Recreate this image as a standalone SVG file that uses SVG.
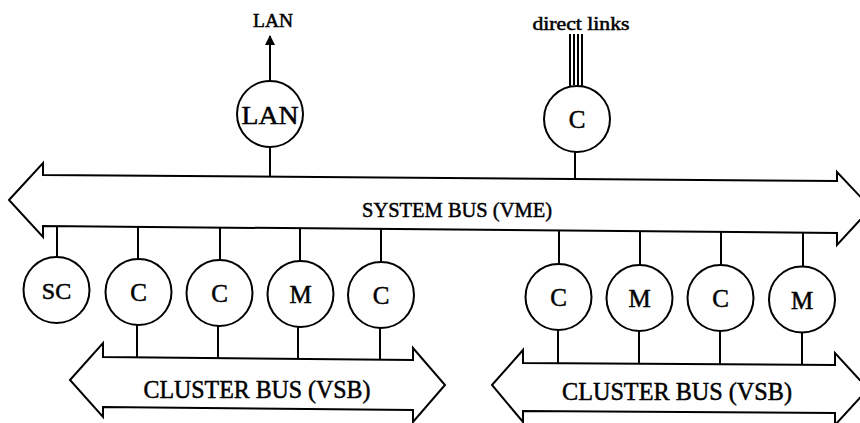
<svg xmlns="http://www.w3.org/2000/svg" width="860" height="423" viewBox="0 0 860 423">
<style>
  .bus { fill: none; stroke: #000; stroke-width: 2; stroke-linejoin: miter; }
  .node circle { fill: #fff; stroke: #000; stroke-width: 2; }
  .lbl { font-family: "Liberation Serif", "Times New Roman", serif; fill: #000; stroke: #000; stroke-width: 0.5; text-anchor: middle; }
  .wire { stroke: #000; stroke-width: 2; fill: none; }
</style>
<defs>
  <marker id="arr" viewBox="0 0 10 10" refX="9" refY="5" markerWidth="5" markerHeight="6" orient="auto" markerUnits="strokeWidth">
    <path d="M0,0 L10,5 L0,10 z" fill="#000"/>
  </marker>
</defs>
<rect width="860" height="423" fill="#fff"/>

<g id="system-bus">
  <polygon class="bus" points="9,200 43,163 43,175 837,181 837,172 871,208 837,245 837,233 43,226 43,237"/>
  <text class="lbl" x="457" y="217" font-size="22" textLength="190" lengthAdjust="spacingAndGlyphs">SYSTEM BUS (VME)</text>
</g>

<g id="cluster-bus-1">
  <polygon class="bus" points="70,380 103,343 103,357 413,360 413,348 445,385 413,422 413,410 103,407 103,417"/>
  <text class="lbl" x="257" y="398" font-size="25" textLength="227" lengthAdjust="spacingAndGlyphs">CLUSTER BUS (VSB)</text>
</g>

<g id="cluster-bus-2">
  <polygon class="bus" points="492,385 523,350 523,363 835,365 835,353 868,389 835,425 835,413 523,411 523,422"/>
  <text class="lbl" x="677" y="400" font-size="25" textLength="230" lengthAdjust="spacingAndGlyphs">CLUSTER BUS (VSB)</text>
</g>

<g id="connectors">
  <line class="wire" x1="270" y1="80" x2="270" y2="36" marker-end="url(#arr)"/>
  <line class="wire" x1="270" y1="147" x2="270" y2="177"/>
  <line class="wire" x1="575" y1="152" x2="575" y2="179"/>
  <line class="wire" x1="570" y1="86" x2="570" y2="34" stroke-width="1.5"/>
  <line class="wire" x1="574" y1="85" x2="574" y2="34" stroke-width="1.5"/>
  <line class="wire" x1="578" y1="85" x2="578" y2="34" stroke-width="1.5"/>
  <line class="wire" x1="582" y1="86" x2="582" y2="34" stroke-width="1.5"/>
  <line class="wire" x1="57" y1="226" x2="57" y2="257"/>
  <line class="wire" x1="138" y1="227" x2="138" y2="259"/>
  <line class="wire" x1="220" y1="228" x2="220" y2="260"/>
  <line class="wire" x1="300" y1="228" x2="300" y2="261"/>
  <line class="wire" x1="381" y1="229" x2="381" y2="262"/>
  <line class="wire" x1="559" y1="230" x2="559" y2="264"/>
  <line class="wire" x1="640" y1="231" x2="640" y2="265"/>
  <line class="wire" x1="721" y1="232" x2="721" y2="265"/>
  <line class="wire" x1="803" y1="233" x2="803" y2="266"/>
  <line class="wire" x1="137" y1="325" x2="137" y2="358"/>
  <line class="wire" x1="218" y1="326" x2="218" y2="358"/>
  <line class="wire" x1="298" y1="327" x2="298" y2="359"/>
  <line class="wire" x1="380" y1="328" x2="380" y2="360"/>
  <line class="wire" x1="558" y1="330" x2="558" y2="364"/>
  <line class="wire" x1="639" y1="331" x2="639" y2="364"/>
  <line class="wire" x1="720" y1="331" x2="720" y2="365"/>
  <line class="wire" x1="802" y1="332" x2="802" y2="365"/>
</g>

<g id="label-lan-out">
  <text class="lbl" x="273" y="27" font-size="19" textLength="40" lengthAdjust="spacingAndGlyphs">LAN</text>
</g>
<g id="label-direct-links">
  <text class="lbl" x="581" y="30" font-size="18" textLength="97" lengthAdjust="spacingAndGlyphs">direct links</text>
</g>

<g id="node-lan" class="node">
  <circle cx="270" cy="114" r="33"/>
  <text class="lbl" x="270" y="124" font-size="26" textLength="57" lengthAdjust="spacingAndGlyphs">LAN</text>
</g>
<g id="node-c-top" class="node">
  <circle cx="577" cy="119" r="33"/>
  <text class="lbl" x="577" y="128" font-size="25">C</text>
</g>

<g id="node-sc" class="node">
  <circle cx="56.5" cy="290" r="33"/>
  <text class="lbl" x="56.5" y="299" font-size="24">SC</text>
</g>
<g id="node-c1" class="node">
  <circle cx="138.5" cy="292" r="33"/>
  <text class="lbl" x="138.5" y="301" font-size="25">C</text>
</g>
<g id="node-c2" class="node">
  <circle cx="219.5" cy="293" r="33"/>
  <text class="lbl" x="219.5" y="302" font-size="25">C</text>
</g>
<g id="node-m1" class="node">
  <circle cx="300.5" cy="294" r="33"/>
  <text class="lbl" x="300.5" y="303" font-size="25">M</text>
</g>
<g id="node-c3" class="node">
  <circle cx="381" cy="295" r="33"/>
  <text class="lbl" x="381" y="304" font-size="25">C</text>
</g>
<g id="node-c4" class="node">
  <circle cx="558.5" cy="297" r="33"/>
  <text class="lbl" x="558.5" y="306" font-size="25">C</text>
</g>
<g id="node-m2" class="node">
  <circle cx="639.5" cy="298" r="33"/>
  <text class="lbl" x="639.5" y="307" font-size="25">M</text>
</g>
<g id="node-c5" class="node">
  <circle cx="720.5" cy="298" r="33"/>
  <text class="lbl" x="720.5" y="307" font-size="25">C</text>
</g>
<g id="node-m3" class="node">
  <circle cx="802" cy="299.5" r="33"/>
  <text class="lbl" x="802" y="308.5" font-size="25">M</text>
</g>
</svg>
